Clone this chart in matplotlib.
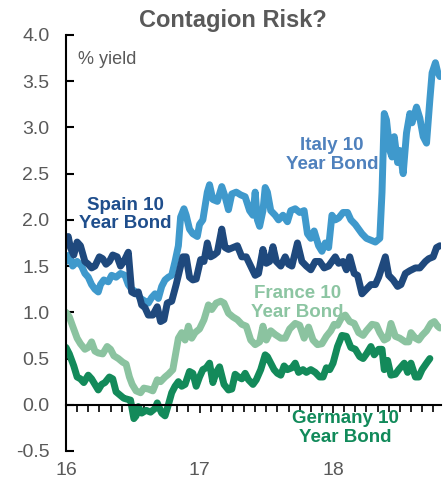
import matplotlib.pyplot as plt

# months since Jan 2016 and 10 year yields (%)
italy_m = [0.0, 0.3, 0.6, 1.0, 1.4, 1.7, 2.0, 2.3, 2.6, 2.9, 3.1, 3.4, 3.8, 4.1, 4.5, 4.9,
           5.3, 5.6, 5.9, 6.3, 6.7, 7.1, 7.4, 7.7, 8.0, 8.3, 8.6, 8.9, 9.2, 9.5, 9.8, 10.1,
           10.3, 10.6, 10.8, 11.1, 11.4, 11.8, 12.0, 12.3, 12.7, 12.9, 13.2, 13.6, 14.0, 14.3,
           14.6, 14.9, 15.3, 15.7, 16.1, 16.5, 16.8, 17.0, 17.2, 17.4, 17.7, 17.9, 18.1, 18.4,
           18.8, 19.1, 19.5, 19.9, 20.2, 20.6, 21.0, 21.4, 21.7, 22.0, 22.3, 22.7, 23.0, 23.3,
           23.6, 23.9, 24.2, 24.5, 24.9, 25.3, 25.6, 26.0, 26.3, 26.6, 27.0, 27.4, 27.8, 28.2,
           28.4, 28.6, 28.8, 29.1, 29.3, 29.5, 29.8, 30.0, 30.3, 30.6, 30.9, 31.1, 31.5, 31.8,
           32.1, 32.4, 32.7, 32.9, 33.2, 33.4, 33.6]
italy_y = [1.55, 1.62, 1.5, 1.55, 1.5, 1.42, 1.38, 1.3, 1.25, 1.22, 1.3, 1.35, 1.33, 1.4, 1.38, 1.42,
           1.4, 1.3, 1.25, 1.22, 1.15, 1.12, 1.1, 1.16, 1.2, 1.15, 1.28, 1.35, 1.38, 1.4, 1.55, 1.72,
           2.03, 2.12, 2.05, 1.9, 1.85, 1.82, 1.95, 2.0, 2.3, 2.38, 2.22, 2.2, 2.36, 2.25,
           2.11, 2.28, 2.3, 2.27, 2.25, 2.1, 2.05, 2.3, 2.0, 1.93, 2.1, 2.35, 2.3, 2.1,
           2.05, 2.0, 2.05, 1.98, 2.1, 2.12, 2.08, 2.1, 1.85, 1.8, 1.88, 1.72, 1.66, 1.75,
           1.7, 2.05, 2.0, 2.02, 2.08, 2.08, 2.0, 1.95, 1.9, 1.85, 1.8, 1.78, 1.76, 1.8,
           2.3, 3.15, 3.08, 2.75, 2.68, 2.9, 2.62, 2.75, 2.5, 2.94, 3.15, 3.05, 3.22, 3.1,
           2.9, 2.83, 3.3, 3.59, 3.7, 3.6, 3.55]

spain_m = [0.0, 0.2, 0.4, 0.7, 1.0, 1.3, 1.7, 2.0, 2.3, 2.6, 3.0, 3.3, 3.6, 3.9, 4.2, 4.6,
           4.9, 5.2, 5.6, 5.9, 6.2, 6.5, 6.8, 7.1, 7.4, 7.8, 8.2, 8.5, 8.8, 9.1, 9.5, 9.9,
           10.2, 10.5, 10.8, 11.1, 11.4, 11.7, 12.1, 12.4, 12.7, 13.0, 13.3, 13.6, 14.0, 14.3,
           14.6, 15.0, 15.4, 15.8, 16.2, 16.6, 17.0, 17.3, 17.7, 18.0, 18.3, 18.6, 18.9, 19.3,
           19.7, 20.0, 20.3, 20.8, 21.2, 21.6, 22.0, 22.4, 22.8, 23.2, 23.6, 23.9, 24.2, 24.5,
           24.9, 25.2, 25.5, 25.9, 26.2, 26.6, 27.0, 27.4, 27.8, 28.1, 28.7, 29.0, 29.4, 29.8,
           30.1, 30.5, 30.9, 31.4, 31.8, 32.3, 32.6, 33.0, 33.3, 33.6]
spain_y = [1.75, 1.82, 1.7, 1.62, 1.76, 1.72, 1.55, 1.52, 1.48, 1.5, 1.6, 1.58, 1.52, 1.55, 1.62, 1.6,
           1.5, 1.55, 1.65, 1.22, 1.2, 1.22, 1.08, 1.05, 0.97, 0.97, 1.06, 0.9, 0.92, 1.1, 1.12, 1.3,
           1.45, 1.6, 1.6, 1.38, 1.35, 1.36, 1.57, 1.55, 1.75, 1.6, 1.62, 1.65, 1.9, 1.7,
           1.68, 1.7, 1.72, 1.6, 1.6, 1.5, 1.4, 1.42, 1.68, 1.53, 1.55, 1.71, 1.55, 1.5,
           1.6, 1.52, 1.5, 1.75, 1.55, 1.5, 1.46, 1.55, 1.55, 1.48, 1.5, 1.55, 1.6, 1.53,
           1.55, 1.46, 1.6, 1.42, 1.4, 1.2, 1.25, 1.3, 1.3, 1.38, 1.6, 1.4, 1.35, 1.28,
           1.3, 1.42, 1.45, 1.48, 1.48, 1.55, 1.58, 1.6, 1.7, 1.72]

france_m = [0.0, 0.3, 0.6, 1.0, 1.3, 1.7, 2.0, 2.3, 2.6, 2.9, 3.3, 3.7, 4.0, 4.3, 4.7, 5.1,
            5.4, 5.7, 5.95, 6.3, 6.7, 7.0, 7.4, 7.8, 8.2, 8.5, 8.9, 9.2, 9.6, 10.1, 10.4, 10.7,
            11.0, 11.3, 11.6, 12.0, 12.4, 12.8, 13.1, 13.5, 13.9, 14.2, 14.6, 15.0, 15.4, 15.8,
            16.2, 16.6, 17.0, 17.4, 17.7, 18.0, 18.4, 18.8, 19.3, 19.7, 20.1, 20.6, 21.0, 21.4,
            21.8, 22.2, 22.6, 23.0, 23.4, 23.8, 24.1, 24.4, 24.8, 25.1, 25.5, 25.9, 26.3, 26.7,
            27.0, 27.5, 27.9, 28.2, 28.6, 28.9, 29.2, 29.6, 30.0, 30.5, 30.8, 31.0, 31.4, 31.7,
            32.0, 32.4, 32.8, 33.1, 33.4, 33.6]
france_y = [1.0, 0.95, 0.85, 0.72, 0.66, 0.6, 0.62, 0.68, 0.58, 0.56, 0.55, 0.63, 0.6, 0.53, 0.5, 0.46,
            0.44, 0.3, 0.22, 0.15, 0.13, 0.18, 0.17, 0.15, 0.27, 0.25, 0.3, 0.33, 0.38, 0.72, 0.78, 0.7,
            0.85, 0.72, 0.78, 0.82, 0.92, 1.08, 1.03, 1.1, 1.12, 1.1, 0.99, 0.95, 0.92, 0.87,
            0.85, 0.7, 0.65, 0.68, 0.85, 0.7, 0.8, 0.76, 0.72, 0.72, 0.82, 0.88, 0.86, 0.72,
            0.84, 0.7, 0.65, 0.66, 0.74, 0.8, 0.87, 0.86, 0.95, 0.97, 0.9, 0.88, 0.78, 0.75,
            0.8, 0.87, 0.86, 0.78, 0.7, 0.72, 0.88, 0.74, 0.72, 0.68, 0.68, 0.78, 0.72, 0.7,
            0.75, 0.8, 0.88, 0.9, 0.85, 0.83]

germany_m = [0.0, 0.3, 0.7, 1.0, 1.3, 1.6, 2.0, 2.3, 2.6, 2.9, 3.2, 3.5, 3.9, 4.2, 4.5, 4.9,
             5.2, 5.5, 5.8, 6.1, 6.3, 6.5, 6.8, 7.2, 7.6, 8.0, 8.2, 8.6, 8.9, 9.2, 9.5, 9.8,
             10.1, 10.4, 10.7, 11.1, 11.4, 11.7, 12.0, 12.3, 12.6, 12.9, 13.2, 13.5, 13.8, 14.2,
             14.6, 14.9, 15.2, 15.5, 15.8, 16.1, 16.4, 16.8, 17.1, 17.5, 17.9, 18.1, 18.4, 18.7,
             19.0, 19.3, 19.6, 19.9, 20.3, 20.6, 20.9, 21.3, 21.6, 22.0, 22.4, 22.8, 23.1, 23.4,
             23.7, 24.0, 24.4, 24.8, 25.2, 25.6, 26.0, 26.4, 26.7, 27.0, 27.4, 27.7, 28.1, 28.4,
             28.6, 28.9, 29.2, 29.6, 29.9, 30.4, 30.7, 31.0, 31.4, 31.7, 32.0, 32.4, 32.7]
germany_y = [0.62, 0.55, 0.42, 0.3, 0.28, 0.24, 0.32, 0.28, 0.22, 0.16, 0.22, 0.24, 0.3, 0.28, 0.14, 0.1,
             0.07, 0.06, 0.05, -0.15, -0.12, -0.02, -0.09, -0.06, -0.08, -0.04, 0.02, -0.09, -0.12, 0.0, 0.13, 0.2,
             0.25, 0.2, 0.22, 0.36, 0.34, 0.2, 0.3, 0.38, 0.4, 0.45, 0.24, 0.35, 0.41, 0.22,
             0.16, 0.17, 0.33, 0.3, 0.28, 0.34, 0.27, 0.22, 0.27, 0.38, 0.54, 0.52, 0.45, 0.38,
             0.34, 0.32, 0.42, 0.38, 0.4, 0.45, 0.35, 0.38, 0.35, 0.38, 0.35, 0.3, 0.3, 0.4,
             0.38, 0.45, 0.63, 0.75, 0.74, 0.62, 0.6, 0.52, 0.5, 0.55, 0.63, 0.54, 0.6, 0.6,
             0.38, 0.48, 0.32, 0.33, 0.38, 0.45, 0.35, 0.45, 0.3, 0.3, 0.38, 0.45, 0.5]

year_labels = ['16', '17', '18']
year_pos = [0, 12, 24]

grey = '#595959'
plt.rcParams['font.family'] = ['Liberation Sans', 'DejaVu Sans']

fig = plt.figure(figsize=(4.45, 4.83), dpi=100)
ax = fig.add_axes([0.1483, 0.0663, 0.8427, 0.8613])

lw = 5
ax.plot(italy_m, italy_y, color='#3f99cc', lw=lw, solid_joinstyle='round', solid_capstyle='round')
ax.plot(spain_m, spain_y, color='#1f497d', lw=lw, solid_joinstyle='round', solid_capstyle='round')
ax.plot(france_m, france_y, color='#8bc3a0', lw=lw, solid_joinstyle='round', solid_capstyle='round')
ax.plot(germany_m, germany_y, color='#138a5a', lw=lw, solid_joinstyle='round', solid_capstyle='round')

ax.set_xlim(0, 33.7)
ax.set_ylim(-0.5, 4.0)

ax.spines['top'].set_visible(False)
ax.spines['right'].set_visible(False)
ax.spines['bottom'].set_position(('data', 0))
ax.spines['left'].set_linewidth(1.5)
ax.spines['bottom'].set_linewidth(1.5)

ax.set_yticks([-0.5 + 0.5 * i for i in range(10)])
ax.set_yticklabels(['%.1f' % (-0.5 + 0.5 * i) for i in range(10)])
ax.tick_params(axis='y', direction='in', length=6, width=1.5, pad=12,
               labelsize=14, labelcolor=grey)

ax.set_xticks(year_pos)
ax.set_xticks(range(0, 34), minor=True)
ax.tick_params(axis='x', which='both', direction='out', width=1.2, labelbottom=False)
ax.tick_params(axis='x', which='major', length=6)
ax.tick_params(axis='x', which='minor', length=5)
for pos, lab in zip(year_pos, year_labels):
    ax.text(pos, -0.71, lab, ha='center', va='center', fontsize=14, color=grey, clip_on=False)

ax.text(1.05, 3.73, '% yield', fontsize=13, color=grey, va='center', ha='left')

bold = dict(fontsize=13.5, fontweight='bold', ha='center', va='center', linespacing=1.1)
ax.text(5.3, 2.06, 'Spain 10\nYear Bond', color='#1f4e8c', **bold)
ax.text(23.9, 2.7, 'Italy 10\nYear Bond', color='#4f81bd', **bold)
ax.text(20.8, 1.1, 'France 10\nYear Bond', color='#8cc5a2', **bold)
ax.text(25.1, -0.25, 'Germany 10\nYear Bond', color='#118a5a', **bold)

fig.text(0.524, 0.958, 'Contagion Risk?', ha='center', va='center', fontsize=17,
         fontweight='bold', color=grey)

fig.savefig('out.png', dpi=100)
